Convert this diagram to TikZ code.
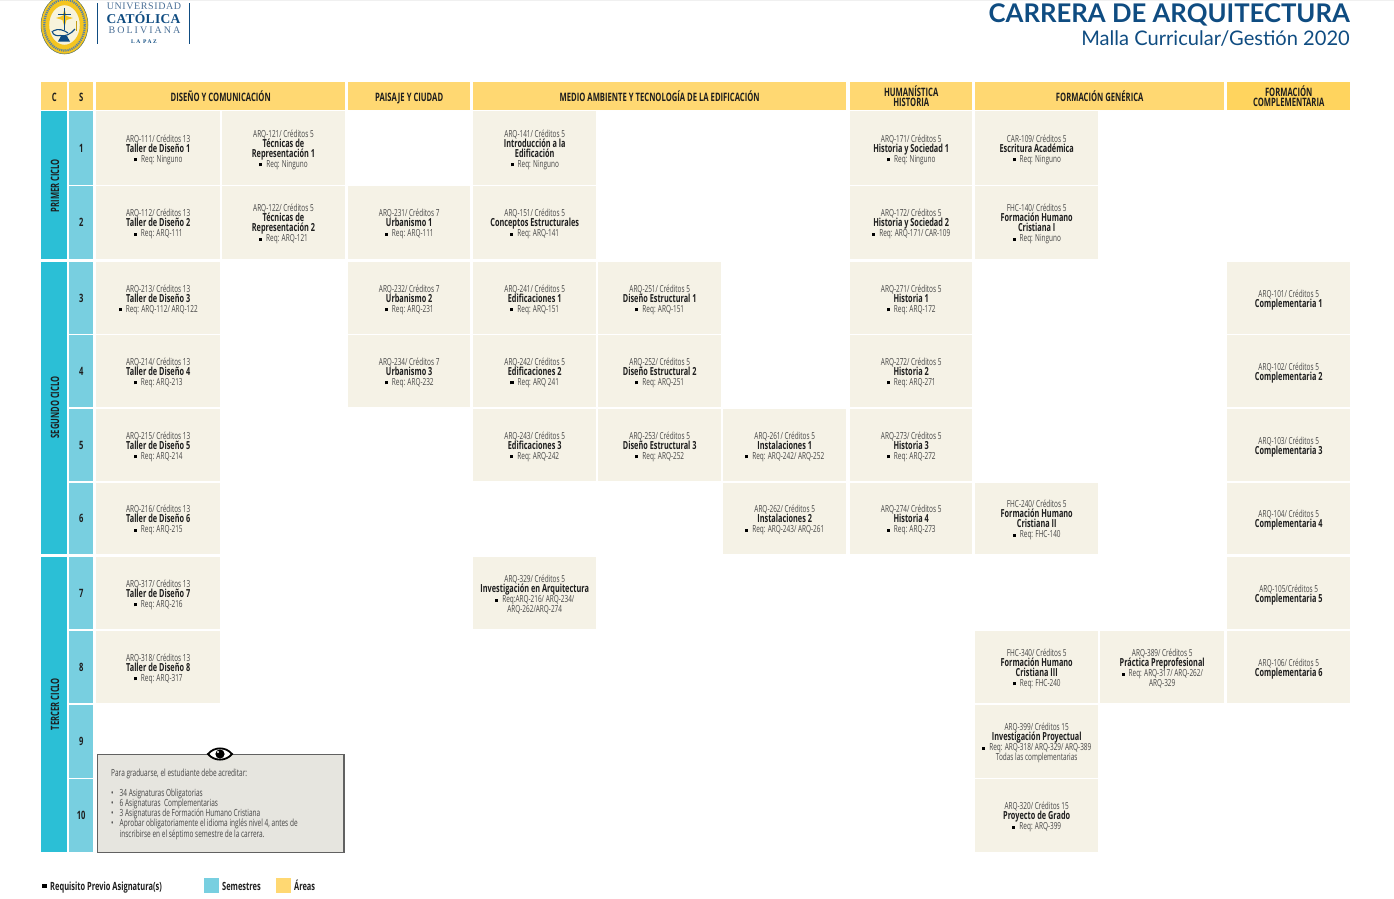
\documentclass[tikz,border=0pt]{standalone}
\usepackage{fontspec}
\setmainfont{Open Sans}
\newfontfamily\cnd[FakeStretch=0.66]{Open Sans}
\newfontfamily\titlefont{Lato}
\newfontfamily\serifuni{Liberation Serif}
\normallineskiplimit=-100pt
\lineskiplimit=-100pt
\definecolor{navy}{HTML}{0F4C81}
\definecolor{navylight}{HTML}{4A6F96}
\definecolor{cyclecol}{HTML}{2BBFD6}
\definecolor{semcol}{HTML}{78CFE0}
\definecolor{headcol}{HTML}{FFD872}
\definecolor{headcolb}{HTML}{FFD45E}
\definecolor{cellcol}{HTML}{F5F2E6}
\definecolor{notecol}{HTML}{E6E5DF}
\definecolor{codegray}{HTML}{454545}
\definecolor{titlegray}{HTML}{1E1E1E}
\definecolor{sealyellow}{HTML}{F4C520}
\definecolor{sealpale}{HTML}{F7F3DC}
% column left edges / widths
\def\cxA{96}\def\cwA{124}
\def\cxB{221.5}\def\cwB{123.5}
\def\cxC{348}\def\cwC{122}
\def\cxD{473}\def\cwD{123}
\def\cxE{598}\def\cwE{123}
\def\cxF{723}\def\cwF{123}
\def\cxG{850}\def\cwG{122}
\def\cxH{975}\def\cwH{123}
\def\cxI{1100}\def\cwI{124}
\def\cxJ{1227}\def\cwJ{123}
% row tops / heights
\def\ryA{111}\def\rhA{74}
\def\ryB{186}\def\rhB{73}
\def\ryC{262}\def\rhC{72}
\def\ryD{335}\def\rhD{72}
\def\ryE{409}\def\rhE{72}
\def\ryF{483}\def\rhF{71}
\def\ryG{557}\def\rhG{72}
\def\ryH{631}\def\rhH{72}
\def\ryI{705}\def\rhI{73}
\def\ryJ{779}\def\rhJ{73}
\tikzset{
  cellbox/.style={fill=cellcol,draw=none,inner sep=0pt,anchor=north west},
  celltext/.style={inner sep=0pt,align=center,text=codegray,
    font=\cnd\fontsize{9.75}{10}\selectfont},
  headbox/.style={fill=headcol,draw=none,inner sep=0pt,anchor=north west,minimum height=28pt},
  headtext/.style={inner sep=0pt,align=center,text=titlegray,
    font=\cnd\bfseries\fontsize{11.6}{10}\selectfont},
  sembox/.style={fill=semcol,draw=none,inner sep=0pt,anchor=north west,
    font=\cnd\bfseries\fontsize{11.5}{10}\selectfont,text=titlegray},
  cyclebox/.style={fill=cyclecol,draw=none,inner sep=0pt,anchor=north west},
  cyclelabel/.style={rotate=90,inner sep=0pt,font=\cnd\bfseries\fontsize{11.5}{10}\selectfont,text=titlegray},
  notetext/.style={inner sep=0pt,anchor=north west,align=left,text=codegray,
    font=\cnd\fontsize{9.85}{10.2}\selectfont},
  legendtext/.style={inner sep=0pt,anchor=base west,text=titlegray,
    font=\cnd\bfseries\fontsize{11.3}{10}\selectfont},
  unitext/.style={inner sep=0pt,text=navy,font=\serifuni},
}
\newcommand{\ttl}[1]{{\bfseries\fontsize{11.1}{10}\selectfont\color{titlegray}#1}}
\newcommand{\sq}{\textcolor{black}{\rule[1pt]{3.2pt}{3.2pt}}\hspace{4pt}}
% \cellat{name}{col}{row}{text}
\newcommand{\cellat}[4]{\node[cellbox,minimum width=\csname cw#2\endcsname pt,minimum height=\csname rh#3\endcsname pt]
  (#1) at (\csname cx#2\endcsname,\csname ry#3\endcsname) {};
  \node[celltext] (#1t) at ([yshift=-1.7pt]#1.center) {#4};}
\newcommand{\stdcell}[6]{\cellat{#1}{#2}{#3}{#4\\\ttl{#5}\\\sq #6}}
\newcommand{\twocell}[7]{\cellat{#1}{#2}{#3}{#4\\\ttl{#5}\\\ttl{#6}\\\sq #7}}
% \headone{name}{x}{w}{text}
\newcommand{\headone}[4]{\node[headbox,minimum width=#3pt] (#1) at (#2,82) {};
  \node[headtext,anchor=base] (#1t) at ([yshift=-5pt]#1.center) {#4};}
\begin{document}
\begin{tikzpicture}[x=1pt,y=-1pt]
\useasboundingbox (0,0) rectangle (1394,898);
\fill[gray!12] (0,0) rectangle (1394,1.2);
% logo
\begin{scope}
\clip (30,0.5) rectangle (92,60);
\fill[sealyellow,draw=navy!70!sealyellow,line width=0.5pt] (64.5,25) ellipse (23.5pt and 29pt);
\draw[navy!70,line width=2.2pt,dash pattern=on 1.2pt off 0.9pt] (64.5,25) ellipse (20.3pt and 25.6pt);
\fill[sealpale,draw=sealyellow,line width=1.4pt] (64.5,25) ellipse (16pt and 20.5pt);
\fill[sealyellow] (64.5,9) -- (66.5,16) -- (73,18) -- (66.5,20) -- (64.5,27) -- (62.5,20) -- (56,18) -- (62.5,16) -- cycle;
\draw[navy,line width=0.7pt] (64.5,8) -- (64.5,30);
\draw[navy,line width=0.7pt] (58,14) -- (71,14);
\draw[navy,line width=1.1pt] (52,31) .. controls (53,36) and (58,36) .. (60,35.5) .. controls (65,37) and (71,34) .. (75,29);
\draw[navy,line width=1.1pt] (53,31) .. controls (58,28) and (64,30) .. (68,33);
\fill[navy] (61,36) -- (67,36) -- (70,41.5) -- (58,41.5) -- cycle;
\draw[sealyellow!80!black,line width=1pt] (76,21) -- (76,31);
\end{scope}
\draw[navy,line width=0.8pt] (97.5,3) -- (97.5,44);
\draw[navy,line width=0.8pt] (189.5,3) -- (189.5,44);
\node[unitext,text=navylight,font=\serifuni\fontsize{10}{10}\selectfont] (uni1) at (144,6.5) {\addfontfeature{LetterSpace=6}UNIVERSIDAD};
\node[unitext,font=\serifuni\bfseries\fontsize{13.5}{13}\selectfont] (uni2) at (143.5,18) {\addfontfeature{LetterSpace=2}CATÓLICA};
\node[unitext,text=navylight,font=\serifuni\fontsize{10}{10}\selectfont] (uni3) at (144.5,30.5) {\addfontfeature{LetterSpace=20}BOLIVIANA};
\node[unitext,font=\serifuni\bfseries\fontsize{5.5}{6}\selectfont] (uni4) at (144,41.5) {\addfontfeature{LetterSpace=28}LA PAZ};
% titles
\node[inner sep=0pt,anchor=east,text=navy,font=\titlefont\bfseries\fontsize{25.7}{26}\selectfont] (title) at (1350,14.5) {CARRERA DE ARQUITECTURA};
\node[inner sep=0pt,anchor=east,text=navy,font=\titlefont\fontsize{20.1}{21}\selectfont] (subtitle) at (1350,39) {Malla Curricular/Gestión 2020};
% headers
\headone{hC}{41}{26}{C}
\headone{hS}{69}{24}{S}
\headone{h1}{96}{249}{DISEÑO Y COMUNICACIÓN}
\headone{h2}{348}{122}{PAISAJE Y CIUDAD}
\headone{h3}{473}{373}{MEDIO AMBIENTE Y TECNOLOGÍA DE LA EDIFICACIÓN}
\node[headbox,minimum width=122pt] (h4) at (850,82) {};
\node[headtext] (h4t) at (h4.center) {HUMANÍSTICA\\HISTORIA};
\headone{h5}{975}{249}{FORMACIÓN GENÉRICA}
\node[headbox,fill=headcolb,minimum width=123pt] (h6) at (1227,82) {};
\node[headtext] (h6t) at (h6.center) {FORMACIÓN\\COMPLEMENTARIA};
% cycles
\node[cyclebox,minimum width=26pt,minimum height=148pt] (cy1) at (41,111) {};
\node[cyclebox,minimum width=26pt,minimum height=292pt] (cy2) at (41,262) {};
\node[cyclebox,minimum width=26pt,minimum height=295pt] (cy3) at (41,557) {};
\node[cyclelabel] (cy1t) at (55,185.5) {PRIMER CICLO};
\node[cyclelabel] (cy2t) at (55,407.5) {SEGUNDO CICLO};
\node[cyclelabel] (cy3t) at (55,704) {TERCER CICLO};
% semesters
\foreach \r/\n in {A/1,B/2,C/3,D/4,E/5,F/6,G/7,H/8,I/9,J/10}{
  \node[sembox,minimum width=24pt,minimum height=\csname rh\r\endcsname pt] (sem\n) at (69,\csname ry\r\endcsname) {\n};
}
% courses row 1
\stdcell{c111}{A}{A}{ARQ-111/ Créditos 13}{Taller de Diseño 1}{Req: Ninguno}
\twocell{c121}{B}{A}{ARQ-121/ Créditos 5}{Técnicas de}{Representación 1}{Req: Ninguno}
\twocell{c141}{D}{A}{ARQ-141/ Créditos 5}{Introducción a la}{Edificación}{Req: Ninguno}
\stdcell{c171}{G}{A}{ARQ-171/ Créditos 5}{Historia y Sociedad 1}{Req: Ninguno}
\stdcell{c109}{H}{A}{CAR-109/ Créditos 5}{Escritura Académica}{Req: Ninguno}
% row 2
\stdcell{c112}{A}{B}{ARQ-112/ Créditos 13}{Taller de Diseño 2}{Req: ARQ-111}
\twocell{c122}{B}{B}{ARQ-122/ Créditos 5}{Técnicas de}{Representación 2}{Req: ARQ-121}
\stdcell{c231}{C}{B}{ARQ-231/ Créditos 7}{Urbanismo 1}{Req: ARQ-111}
\stdcell{c151}{D}{B}{ARQ-151/ Créditos 5}{Conceptos Estructurales}{Req: ARQ-141}
\stdcell{c172}{G}{B}{ARQ-172/ Créditos 5}{Historia y Sociedad 2}{Req: ARQ-171/ CAR-109}
\twocell{c140}{H}{B}{FHC-140/ Créditos 5}{Formación Humano}{Cristiana I}{Req: Ninguno}
% row 3
\stdcell{c213}{A}{C}{ARQ-213/ Créditos 13}{Taller de Diseño 3}{Req: ARQ-112/ ARQ-122}
\stdcell{c232}{C}{C}{ARQ-232/ Créditos 7}{Urbanismo 2}{Req: ARQ-231}
\stdcell{c241}{D}{C}{ARQ-241/ Créditos 5}{Edificaciones 1}{Req: ARQ-151}
\stdcell{c251}{E}{C}{ARQ-251/ Créditos 5}{Diseño Estructural 1}{Req: ARQ-151}
\stdcell{c271}{G}{C}{ARQ-271/ Créditos 5}{Historia 1}{Req: ARQ-172}
\cellat{c101}{J}{C}{ARQ-101/ Créditos 5\\\ttl{Complementaria 1}}
% row 4
\stdcell{c214}{A}{D}{ARQ-214/ Créditos 13}{Taller de Diseño 4}{Req: ARQ-213}
\stdcell{c234}{C}{D}{ARQ-234/ Créditos 7}{Urbanismo 3}{Req: ARQ-232}
\stdcell{c242}{D}{D}{ARQ-242/ Créditos 5}{Edificaciones 2}{Req: ARQ 241}
\stdcell{c252}{E}{D}{ARQ-252/ Créditos 5}{Diseño Estructural 2}{Req: ARQ-251}
\stdcell{c272}{G}{D}{ARQ-272/ Créditos 5}{Historia 2}{Req: ARQ-271}
\cellat{c102}{J}{D}{ARQ-102/ Créditos 5\\\ttl{Complementaria 2}}
% row 5
\stdcell{c215}{A}{E}{ARQ-215/ Créditos 13}{Taller de Diseño 5}{Req: ARQ-214}
\stdcell{c243}{D}{E}{ARQ-243/ Créditos 5}{Edificaciones 3}{Req: ARQ-242}
\stdcell{c253}{E}{E}{ARQ-253/ Créditos 5}{Diseño Estructural 3}{Req: ARQ-252}
\stdcell{c261}{F}{E}{ARQ-261/ Créditos 5}{Instalaciones 1}{Req: ARQ-242/ ARQ-252}
\stdcell{c273}{G}{E}{ARQ-273/ Créditos 5}{Historia 3}{Req: ARQ-272}
\cellat{c103}{J}{E}{ARQ-103/ Créditos 5\\\ttl{Complementaria 3}}
% row 6
\stdcell{c216}{A}{F}{ARQ-216/ Créditos 13}{Taller de Diseño 6}{Req: ARQ-215}
\stdcell{c262}{F}{F}{ARQ-262/ Créditos 5}{Instalaciones 2}{Req: ARQ-243/ ARQ-261}
\stdcell{c274}{G}{F}{ARQ-274/ Créditos 5}{Historia 4}{Req: ARQ-273}
\twocell{c240}{H}{F}{FHC-240/ Créditos 5}{Formación Humano}{Cristiana II}{Req: FHC-140}
\cellat{c104}{J}{F}{ARQ-104/ Créditos 5\\\ttl{Complementaria 4}}
% row 7
\stdcell{c317}{A}{G}{ARQ-317/ Créditos 13}{Taller de Diseño 7}{Req: ARQ-216}
\cellat{c329}{D}{G}{ARQ-329/ Créditos 5\\\ttl{Investigación en Arquitectura}\\\sq Req:ARQ-216/ ARQ-234/\\ARQ-262/ARQ-274}
\cellat{c105}{J}{G}{ARQ-105/Créditos 5\\\ttl{Complementaria 5}}
% row 8
\stdcell{c318}{A}{H}{ARQ-318/ Créditos 13}{Taller de Diseño 8}{Req: ARQ-317}
\twocell{c340}{H}{H}{FHC-340/ Créditos 5}{Formación Humano}{Cristiana III}{Req: FHC-240}
\cellat{c389}{I}{H}{ARQ-389/ Créditos 5\\\ttl{Práctica Preprofesional}\\\sq Req: ARQ-317/ ARQ-262/\\ARQ-329}
\cellat{c106}{J}{H}{ARQ-106/ Créditos 5\\\ttl{Complementaria 6}}
% rows 9, 10
\cellat{c399}{H}{I}{ARQ-399/ Créditos 15\\\ttl{Investigación Proyectual}\\\sq Req: ARQ-318/ ARQ-329/ ARQ-389\\Todas las complementarias}
\stdcell{c320}{H}{J}{ARQ-320/ Créditos 15}{Proyecto de Grado}{Req: ARQ-399}
% note box
\node[fill=notecol,draw=codegray!85,line width=1.2pt,inner sep=0pt,anchor=north west,minimum width=246.8pt,minimum height=98pt] (note) at (96.5,754) {};
\node[notetext] (note1) at (111,768.5) {Para graduarse, el estudiante debe acreditar:};
\node[notetext] (note2) at (111,788.5) {\makebox[8.5pt][l]{•}34 Asignaturas Obligatorias\\\makebox[8.5pt][l]{•}6 Asignaturas\ \ Complementarias\\\makebox[8.5pt][l]{•}3 Asignaturas de Formación Humano Cristiana\\\makebox[8.5pt][l]{•}Aprobar obligatoriamente el idioma inglés nivel 4, antes de\\\makebox[8.5pt][l]{}inscribirse en el séptimo semestre de la carrera.};
% eye
\fill[white,draw=black,line width=1.8pt] (208,754) .. controls (214,746.5) and (226,746.5) .. (232,754) .. controls (226,761.5) and (214,761.5) .. (208,754) -- cycle;
\fill[black] (220,754) circle (4.6pt);
\fill[white] (218,752) circle (1.2pt);
% legend
\fill[black] (42,884) rectangle (46.5,888);
\node[legendtext] (leg1) at (50,890) {Requisito Previo Asignatura(s)};
\node[fill=semcol,inner sep=0pt,anchor=north west,minimum width=15pt,minimum height=15pt] (leg2box) at (204,877.5) {};
\node[legendtext] (leg2) at (222,890) {Semestres};
\node[fill=headcol,inner sep=0pt,anchor=north west,minimum width=15pt,minimum height=15pt] (leg3box) at (276,877.5) {};
\node[legendtext] (leg3) at (294,890) {Áreas};
\end{tikzpicture}
\end{document}
